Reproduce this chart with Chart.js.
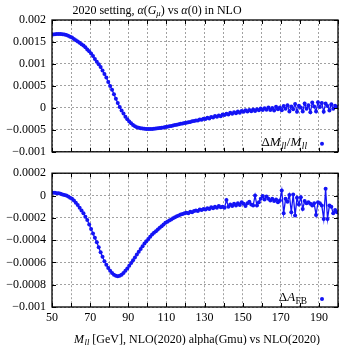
<!DOCTYPE html>
<html>
<head>
<meta charset="utf-8">
<script src="https://cdn.jsdelivr.net/npm/chart.js@4.4.1/dist/chart.umd.min.js"></script>
<style>
  html, body { margin: 0; padding: 0; background: #fff; }
  #wrap { position: relative; width: 342px; height: 345px; overflow: hidden; }
  canvas { position: absolute; left: 0; }
  #topChart { top: 0; }
  #botChart { top: 160px; }
</style>
</head>
<body>
<div id="wrap">
  <canvas id="topChart" width="342" height="165"></canvas>
  <canvas id="botChart" width="342" height="185"></canvas>
</div>
<script>
// --- DATA ---
const massBins = [
  50.5, 51.5, 52.5, 53.5, 54.5, 55.5, 56.5, 57.5, 58.5, 59.5,
  60.5, 61.5, 62.5, 63.5, 64.5, 65.5, 66.5, 67.5, 68.5, 69.5,
  70.5, 71.5, 72.5, 73.5, 74.5, 75.5, 76.5, 77.5, 78.5, 79.5,
  80.5, 81.5, 82.5, 83.5, 84.5, 85.5, 86.5, 87.5, 88.5, 89.5,
  90.5, 91.5, 92.5, 93.5, 94.5, 95.5, 96.5, 97.5, 98.5, 99.5,
  100.5, 101.5, 102.5, 103.5, 104.5, 105.5, 106.5, 107.5, 108.5, 109.5,
  110.5, 111.5, 112.5, 113.5, 114.5, 115.5, 116.5, 117.5, 118.5, 119.5,
  120.5, 121.5, 122.5, 123.5, 124.5, 125.5, 126.5, 127.5, 128.5, 129.5,
  130.5, 131.5, 132.5, 133.5, 134.5, 135.5, 136.5, 137.5, 138.5, 139.5,
  140.5, 141.5, 142.5, 143.5, 144.5, 145.5, 146.5, 147.5, 148.5, 149.5,
  150.5, 151.5, 152.5, 153.5, 154.5, 155.5, 156.5, 157.5, 158.5, 159.5,
  160.5, 161.5, 162.5, 163.5, 164.5, 165.5, 166.5, 167.5, 168.5, 169.5,
  170.5, 171.5, 172.5, 173.5, 174.5, 175.5, 176.5, 177.5, 178.5, 179.5,
  180.5, 181.5, 182.5, 183.5, 184.5, 185.5, 186.5, 187.5, 188.5, 189.5,
  190.5, 191.5, 192.5, 193.5, 194.5, 195.5, 196.5, 197.5, 198.5, 199.5
];

// Delta M_ll / M_ll
const dMll = [
  16.7e-4, 16.75e-4, 16.8e-4, 16.8e-4, 16.8e-4, 16.75e-4, 16.7e-4, 16.6e-4, 16.4e-4, 16.2e-4,
  16.0e-4, 15.7e-4, 15.4e-4, 15.1e-4, 14.8e-4, 14.5e-4, 14.2e-4, 13.8e-4, 13.3e-4, 12.9e-4,
  12.4e-4, 11.8e-4, 11.1e-4, 10.5e-4, 9.9e-4, 9.3e-4, 8.5e-4, 7.7e-4, 6.9e-4, 5.9e-4,
  5.0e-4, 4.1e-4, 3.1e-4, 2.1e-4, 1.1e-4, 0.2e-4, -0.6e-4, -1.3e-4, -2.0e-4, -2.6e-4,
  -3.1e-4, -3.5e-4, -3.9e-4, -4.2e-4, -4.4e-4, -4.55e-4, -4.65e-4, -4.72e-4, -4.77e-4, -4.8e-4,
  -4.82e-4, -4.82e-4, -4.8e-4, -4.77e-4, -4.72e-4, -4.66e-4, -4.6e-4, -4.52e-4, -4.45e-4, -4.36e-4,
  -4.28e-4, -4.2e-4, -4.1e-4, -4.0e-4, -3.92e-4, -3.82e-4, -3.74e-4, -3.63e-4, -3.55e-4, -3.45e-4,
  -3.38e-4, -3.25e-4, -3.2e-4, -3.05e-4, -3.0e-4, -2.85e-4, -2.9e-4, -2.65e-4, -2.7e-4, -2.45e-4,
  -2.55e-4, -2.25e-4, -2.4e-4, -2.1e-4, -2.2e-4, -1.85e-4, -2.0e-4, -1.75e-4, -1.9e-4, -1.5e-4,
  -1.6e-4, -1.35e-4, -1.5e-4, -1.1e-4, -1.35e-4, -1.0e-4, -1.2e-4, -0.85e-4, -1.1e-4, -0.7e-4,
  -0.9e-4, -0.55e-4, -0.8e-4, -0.5e-4, -0.75e-4, -0.35e-4, -0.7e-4, -0.3e-4, -0.55e-4, -0.15e-4,
  -0.5e-4, -0.1e-4, -0.45e-4, 0.1e-4, -0.5e-4, -0.05e-4, -0.6e-4, 0.25e-4, -0.3e-4, 0.1e-4,
  -0.55e-4, 0.4e-4, -0.2e-4, 0.6e-4, -0.8e-4, 0.3e-4, -0.3e-4, 0.9e-4, -0.9e-4, 0.5e-4,
  0.1e-4, -0.8e-4, 1.0e-4, -0.2e-4, 0.6e-4, -1.0e-4, 1.2e-4, 0.3e-4, -0.8e-4, 1.3e-4,
  0.2e-4, 1.1e-4, -0.9e-4, 1.0e-4, 0.4e-4, -0.6e-4, 0.8e-4, -0.2e-4, 0.5e-4, 0.2e-4
];

// Delta A_FB
const dAfb = [
  0.25e-4, 0.25e-4, 0.2e-4, 0.2e-4, 0.15e-4, 0.1e-4, 0.05e-4, 0.0, -0.1e-4, -0.2e-4,
  -0.3e-4, -0.45e-4, -0.65e-4, -0.85e-4, -1.1e-4, -1.35e-4, -1.6e-4, -1.9e-4, -2.2e-4, -2.6e-4,
  -3.0e-4, -3.4e-4, -3.8e-4, -4.2e-4, -4.65e-4, -5.1e-4, -5.5e-4, -5.9e-4, -6.2e-4, -6.5e-4,
  -6.75e-4, -6.95e-4, -7.1e-4, -7.2e-4, -7.25e-4, -7.2e-4, -7.1e-4, -6.95e-4, -6.75e-4, -6.55e-4,
  -6.3e-4, -6.05e-4, -5.8e-4, -5.55e-4, -5.3e-4, -5.05e-4, -4.8e-4, -4.55e-4, -4.3e-4, -4.1e-4,
  -3.9e-4, -3.7e-4, -3.5e-4, -3.35e-4, -3.2e-4, -3.05e-4, -2.9e-4, -2.75e-4, -2.6e-4, -2.45e-4,
  -2.35e-4, -2.25e-4, -2.15e-4, -2.05e-4, -1.95e-4, -1.85e-4, -1.8e-4, -1.7e-4, -1.65e-4, -1.6e-4,
  -1.55e-4, -1.6e-4, -1.45e-4, -1.5e-4, -1.4e-4, -1.35e-4, -1.4e-4, -1.25e-4, -1.3e-4, -1.2e-4,
  -1.25e-4, -1.15e-4, -1.2e-4, -1.05e-4, -1.15e-4, -1.0e-4, -1.1e-4, -0.95e-4, -1.05e-4, -1.0e-4,
  -1.1e-4, -0.4e-4, -1.0e-4, -0.8e-4, -0.95e-4, -0.75e-4, -0.9e-4, -0.7e-4, -0.85e-4, -0.6e-4,
  -0.75e-4, -0.95e-4, -0.7e-4, -0.55e-4, -0.8e-4, -0.9e-4, 0.0, -0.9e-4, -0.6e-4, -0.3e-4,
  -0.05e-4, -0.35e-4, -0.1e-4, -0.3e-4, -0.45e-4, -0.3e-4, -0.5e-4, -0.35e-4, -0.6e-4, -0.45e-4,
  0.45e-4, -1.6e-4, -0.3e-4, -0.55e-4, 0.05e-4, -1.5e-4, 0.1e-4, -1.8e-4, -0.2e-4, -0.8e-4,
  -0.15e-4, -1.2e-4, -0.5e-4, -0.7e-4, -0.6e-4, -0.75e-4, -0.9e-4, -0.7e-4, -1.75e-4, -0.6e-4,
  -0.7e-4, -0.9e-4, -2.1e-4, 0.6e-4, -2.1e-4, -0.9e-4, -1.0e-4, -1.6e-4, -1.3e-4, -1.5e-4
];

const xTickValues = [50, 60, 70, 80, 90, 100, 110, 120, 130, 140, 150, 160, 170, 180, 190, 200];
const xTickLabels = ['50', '', '70', '', '90', '', '110', '', '130', '', '150', '', '170', '', '190', ''];

const topTickValues = [-0.001, -0.0005, 0, 0.0005, 0.001, 0.0015, 0.002];
const topTickLabels = ['\u22120.001', '\u22120.0005', '0', '0.0005', '0.001', '0.0015', '0.002'];

const botTickValues = [-0.001, -0.0008, -0.0006, -0.0004, -0.0002, 0, 0.0002];
const botTickLabels = ['\u22120.001', '\u22120.0008', '\u22120.0006', '\u22120.0004', '\u22120.0002', '0', '0.0002'];

const BLUE = 'rgb(20,20,245)';
const FONT = '"Liberation Serif", "DejaVu Serif", serif';
const FS = 12;

// --- RICH TEXT (italic + subscript pieces) ---
function fontFor(s, size) {
    const sz = s.sub ? size * 0.72 : size;
    return (s.it ? 'italic ' : '') + sz + 'px ' + FONT;
}

function drawRich(ctx, segs, x, y, align, size) {
    ctx.save();
    ctx.textBaseline = 'middle';
    ctx.textAlign = 'left';
    ctx.fillStyle = '#000';
    let total = 0;
    segs.forEach(s => { ctx.font = fontFor(s, size); total += ctx.measureText(s.t).width + (s.gap || 0); });
    let cx = align === 'right' ? x - total : align === 'center' ? x - total / 2 : x;
    segs.forEach(s => {
        ctx.font = fontFor(s, size);
        ctx.fillText(s.t, cx, s.sub ? y + size * 0.25 : y);
        cx += ctx.measureText(s.t).width + (s.gap || 0);
    });
    ctx.restore();
}

// --- FRAME, INNER TICKS, LEGEND, TITLES ---
const framePlugin = {
    id: 'frame',
    afterDraw(chart, args, opts) {
        const { ctx, chartArea: a, scales } = chart;
        ctx.save();
        ctx.strokeStyle = '#000';
        ctx.lineWidth = 1;
        ctx.beginPath();
        xTickValues.forEach(v => {
            const px = Math.round(scales.x.getPixelForValue(v)) + 0.5;
            ctx.moveTo(px, a.bottom); ctx.lineTo(px, a.bottom - 4);
            ctx.moveTo(px, a.top); ctx.lineTo(px, a.top + 4);
        });
        opts.yTicks.forEach(v => {
            const py = Math.round(scales.y.getPixelForValue(v)) + 0.5;
            ctx.moveTo(a.left, py); ctx.lineTo(a.left + 4, py);
            ctx.moveTo(a.right, py); ctx.lineTo(a.right - 4, py);
        });
        ctx.stroke();
        ctx.lineWidth = 1.3;
        ctx.strokeRect(a.left, a.top, a.right - a.left, a.bottom - a.top);

        // legend entry
        drawRich(ctx, opts.legend, a.left + 255, a.bottom - 9, 'right', 13);
        ctx.fillStyle = BLUE;
        ctx.beginPath();
        ctx.arc(a.left + 270, a.bottom - 8, 2, 0, Math.PI * 2);
        ctx.fill();

        if (opts.title) drawRich(ctx, opts.title, 157, 11, 'center', 12);
        if (opts.xTitle) drawRich(ctx, opts.xTitle, 197, a.bottom + 33, 'center', 12);
        ctx.restore();
    }
};

function makeChart(id, values, yTicks, yLabels, yMin, yMax, pad, xHeight, showX, extra) {
    return new Chart(document.getElementById(id), {
        type: 'line',
        data: {
            datasets: [{
                data: massBins.map((m, i) => ({ x: m, y: values[i] })),
                borderColor: BLUE,
                backgroundColor: BLUE,
                borderWidth: 1.3,
                pointRadius: 2,
                pointBorderWidth: 0,
                pointBackgroundColor: BLUE,
                tension: 0
            }]
        },
        options: {
            responsive: false,
            animation: false,
            devicePixelRatio: 1,
            layout: { padding: pad },
            plugins: {
                legend: { display: false },
                tooltip: { enabled: false },
                frame: Object.assign({ yTicks }, extra)
            },
            scales: {
                x: {
                    type: 'linear',
                    min: 50,
                    max: 200,
                    afterBuildTicks: s => { s.ticks = xTickValues.map(v => ({ value: v })); },
                    afterFit: s => { s.height = xHeight; },
                    ticks: {
                        display: showX,
                        autoSkip: false,
                        maxRotation: 0,
                        padding: 4,
                        color: '#000',
                        font: { family: FONT, size: FS },
                        callback: (v, i) => xTickLabels[i]
                    },
                    grid: { color: '#8a8a8a', lineWidth: 0.8, drawTicks: false },
                    border: { display: false, dash: [2, 2] }
                },
                y: {
                    min: yMin,
                    max: yMax,
                    afterBuildTicks: s => { s.ticks = yTicks.map(v => ({ value: v })); },
                    afterFit: s => { s.width = 52; },
                    ticks: {
                        padding: 6,
                        color: '#000',
                        font: { family: FONT, size: FS },
                        callback: (v, i) => yLabels[i]
                    },
                    grid: { color: '#8a8a8a', lineWidth: 0.8, drawTicks: false },
                    border: { display: false, dash: [2, 2] }
                }
            }
        },
        plugins: [framePlugin]
    });
}

window.addEventListener('load', () => {
    makeChart('topChart', dMll, topTickValues, topTickLabels, -0.001, 0.002,
        { left: 0, right: 1, top: 20, bottom: 9 }, 0, false, {
            legend: [
                { t: '\u0394' }, { t: 'M', it: true, gap: 0.5 }, { t: 'll', it: true, sub: true, gap: 0.5 },
                { t: '/' }, { t: 'M', it: true, gap: 0.5 }, { t: 'll', it: true, sub: true }
            ],
            title: [
                { t: '2020 setting, ' }, { t: '\u03b1', it: true }, { t: '(' },
                { t: 'G', it: true }, { t: '\u03bc', it: true, sub: true },
                { t: ') vs ' }, { t: '\u03b1', it: true }, { t: '(0) in NLO' }
            ]
        });

    makeChart('botChart', dAfb, botTickValues, botTickLabels, -0.001, 0.0002,
        { left: 0, right: 1, top: 10, bottom: 0 }, 38, true, {
            legend: [
                { t: '\u0394' }, { t: 'A', it: true, gap: 0.5 }, { t: 'FB', sub: true }
            ],
            xTitle: [
                { t: 'M', it: true, gap: 0.5 }, { t: 'll', it: true, sub: true },
                { t: ' [GeV], NLO(2020) alpha(Gmu) vs NLO(2020)' }
            ]
        });
});
</script>
</body>
</html>
